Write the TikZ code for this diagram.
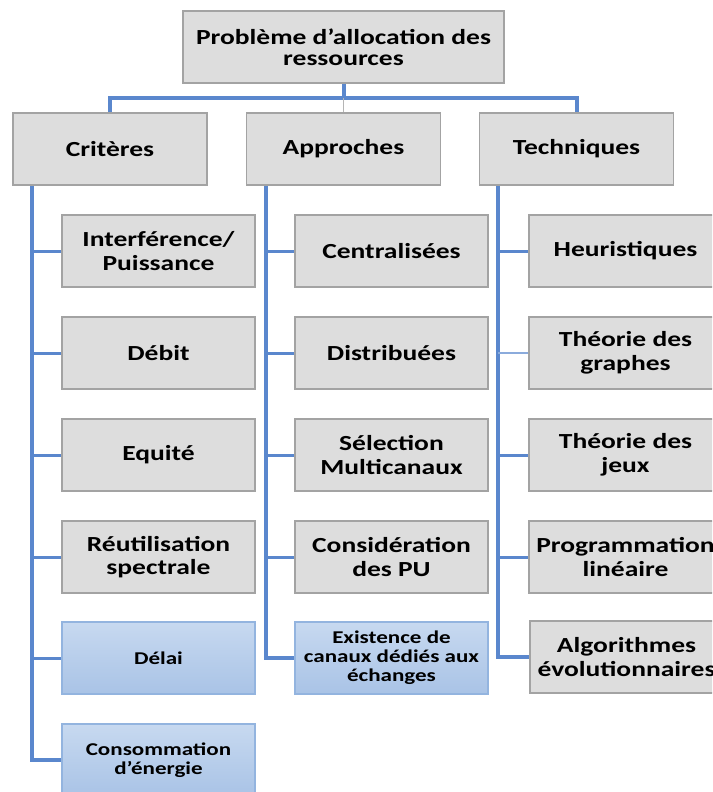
\documentclass[tikz,border=0pt]{standalone}
\usepackage{fontspec}
\setmainfont{Carlito}[FakeStretch=1.28]
\usetikzlibrary{calc}

\definecolor{busblue}{HTML}{5A87CD}
\definecolor{greyfill}{HTML}{DDDDDD}
\definecolor{greyline}{HTML}{A3A3A3}
\definecolor{bluetop}{HTML}{C7D9F0}
\definecolor{bluebot}{HTML}{A9C3E6}
\definecolor{blueline}{HTML}{93B4DF}

\tikzset{
  greybox/.style={rectangle, draw=greyline, line width=1.6pt, fill=greyfill,
    minimum width=193pt, minimum height=72pt, inner sep=0pt, align=center,
    font=\fontsize{21.5}{23.5}\selectfont\bfseries},
  bluebox/.style={rectangle, draw=blueline, line width=1.4pt,
    top color=bluetop, bottom color=bluebot,
    minimum width=193pt, minimum height=72pt, inner sep=0pt, align=center,
    font=\fontsize{18}{19}\selectfont\bfseries},
  bus/.style={draw=busblue, line width=4pt},
  twig/.style={draw=busblue, line width=3pt},
  hair/.style={draw=busblue!70, line width=1.3pt},
  stem/.style={draw=greyline!80, line width=1pt}
}

\begin{document}
\begin{tikzpicture}[x=1pt, y=-1pt]
\clip (0,0) rectangle (712,792);
\fill[white] (0,0) rectangle (712,792);

% root
\node[greybox, minimum width=321pt, font=\fontsize{21.5}{21}\selectfont\bfseries]
  (root) at (343.5,47) {Problème d’allocation des\\ressources};

% three families
\node[greybox, minimum width=194pt] (crit) at (110,149) {Critères};
\node[greybox, minimum width=194pt] (appr) at (343.5,149) {Approches};
\node[greybox, minimum width=194pt] (tech) at (576.5,149) {Techniques};

% criteria
\node[greybox] (c1) at (158.5,251) {Interférence/\\Puissance};
\node[greybox] (c2) at (158.5,353) {Débit};
\node[greybox] (c3) at (158.5,455) {Equité};
\node[greybox] (c4) at (158.5,557) {Réutilisation\\spectrale};
\node[bluebox] (c5) at (158.5,658) {Délai};
\node[bluebox] (c6) at (158.5,760) {Consommation\\d’énergie};

% approaches
\node[greybox] (a1) at (391.5,251) {Centralisées};
\node[greybox] (a2) at (391.5,353) {Distribuées};
\node[greybox] (a3) at (391.5,455) {Sélection\\Multicanaux};
\node[greybox] (a4) at (391.5,557) {Considération\\des PU};
\node[bluebox] (a5) at (391.5,658) {Existence de\\canaux dédiés aux\\échanges};

% techniques
\node[greybox] (t1) at (625.5,251) {Heuristiques};
\node[greybox] (t2) at (625.5,353) {Théorie des\\graphes};
\node[greybox] (t3) at (625.5,455) {Théorie des\\jeux};
\node[greybox] (t4) at (625.5,557) {Programmation\\linéaire};
\node[greybox] (t5) at (626.5,657) {Algorithmes\\évolutionnaires};

% top-level tree
\coordinate (hub) at (343.5,97.5);
\draw[bus] (root.south) -- (hub);
\draw[bus] (crit.north) -- (crit.north |- hub) -- (tech.north |- hub) -- (tech.north);
\draw[stem] (hub) -- (appr.north);

% vertical buses
\coordinate (cbus) at ([xshift=20pt]crit.south west);
\coordinate (abus) at ([xshift=20pt]appr.south west);
\coordinate (tbus) at ([xshift=19pt]tech.south west);
\draw[bus] (cbus) |- (c6.west);
\draw[bus] (abus) |- (a5.west);
\draw[bus] (tbus) |- (t5.west);

% branches
\foreach \n in {c1,c2,c3,c4,c5} \draw[twig] (\n.west) -- (\n.west -| cbus);
\foreach \n in {a1,a2,a3,a4} \draw[twig] (\n.west) -- (\n.west -| abus);
\foreach \n in {t1,t3,t4} \draw[twig] (\n.west) -- (\n.west -| tbus);
\draw[hair] (t2.west) -- (t2.west -| tbus);
\end{tikzpicture}
\end{document}
